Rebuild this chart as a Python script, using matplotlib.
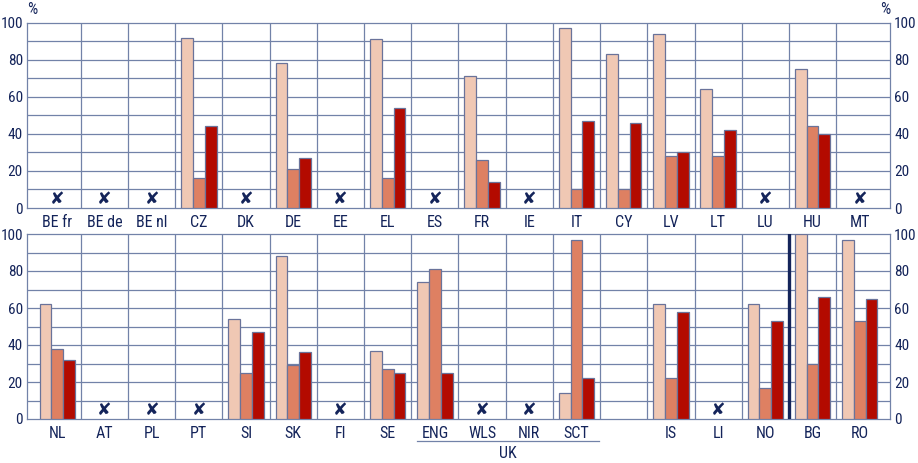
import numpy as np
import matplotlib
matplotlib.use("Agg")
import matplotlib.pyplot as plt
from matplotlib import font_manager as fm
from matplotlib.transforms import blended_transform_factory
from matplotlib.lines import Line2D

nan = np.nan
top_cats = ["BE fr", "BE de", "BE nl", "CZ", "DK", "DE", "EE", "EL", "ES",
            "FR", "IE", "IT", "CY", "LV", "LT", "LU", "HU", "MT"]
top_s1 = [nan, nan, nan, 92, nan, 78, nan, 91, nan, 71, nan, 97, 83, 94, 64, nan, 75, nan]
top_s2 = [nan, nan, nan, 16, nan, 21, nan, 16, nan, 26, nan, 10, 10, 28, 28, nan, 44, nan]
top_s3 = [nan, nan, nan, 44, nan, 27, nan, 54, nan, 14, nan, 47, 46, 30, 42, nan, 40, nan]
top_missing = ["BE fr", "BE de", "BE nl", "DK", "EE", "ES", "IE", "LU", "MT"]

bot_cats = ["NL", "AT", "PL", "PT", "SI", "SK", "FI", "SE", "ENG", "WLS",
            "NIR", "SCT", "", "IS", "LI", "NO", "BG", "RO"]
bot_s1 = [62, nan, nan, nan, 54, 88, nan, 37, 74, nan, nan, 14, nan, 62, nan, 62, 100, 97]
bot_s2 = [38, nan, nan, nan, 25, 29, nan, 27, 81, nan, nan, 97, nan, 22, nan, 17, 30, 53]
bot_s3 = [32, nan, nan, nan, 47, 36, nan, 25, 25, nan, nan, 22, nan, 58, nan, 53, 66, 65]
bot_missing = ["AT", "PL", "PT", "FI", "WLS", "NIR", "LI"]

uk_group = ["ENG", "WLS", "NIR", "SCT"]
uk_label = "UK"

colors = ["#F0C8B4", "#DE8062", "#B30A00"]
grid_c = "#7282A8"
navy = "#14245A"

names = {f.name for f in fm.fontManager.ttflist}
family = 'Roboto Condensed' if 'Roboto Condensed' in names else 'Liberation Sans'
plt.rcParams['font.family'] = [family, 'DejaVu Sans']
fs = 11.5
yfs = 11

fig = plt.figure(figsize=(9.18, 4.63), dpi=100)
ax_top = fig.add_axes([27/918, 1-208/463, 863/918, 185.3/463])
ax_bot = fig.add_axes([27/918, 1-419/463, 863/918, 185/463])


def draw(ax, cats, s1, s2, s3, missing, sep_thick=None):
    x = np.arange(len(cats))
    w = 0.25
    for off, vals, c in zip([-w, 0, w], [s1, s2, s3], colors):
        ax.bar(x + off, vals, width=w, color=c, edgecolor="#6A739A",
               linewidth=0.9, zorder=3)
    ax.set_xlim(-0.64, len(cats) - 1 + 0.64)
    ax.set_ylim(0, 100)
    for yv in range(10, 100, 10):
        ax.axhline(yv, color=grid_c, lw=0.9, zorder=1)
    for i in range(len(cats) - 1):
        if sep_thick is not None and i == sep_thick:
            ax.axvline(i + 0.5, color=navy, lw=2.4, zorder=4)
        else:
            ax.axvline(i + 0.5, color=grid_c, lw=0.9, zorder=1)
    for sp in ax.spines.values():
        sp.set_color(grid_c)
        sp.set_linewidth(0.9)
    ax.set_yticks(range(0, 101, 20))
    ax.set_yticklabels([str(v) for v in range(0, 101, 20)])
    ax.tick_params(axis='y', length=0, labelright=True, labelleft=True,
                   labelsize=yfs, colors=navy, pad=3)
    ax.set_xticks(x)
    ax.set_xticklabels(cats)
    ax.tick_params(axis='x', length=0, labelsize=fs, colors=navy, pad=5)
    for m in missing:
        i = cats.index(m)
        ax.text(i, 5, "\u2718", ha='center', va='center', color=navy,
                fontsize=12.5, family=["DejaVu Sans"], zorder=5)


draw(ax_top, top_cats, top_s1, top_s2, top_s3, top_missing)
draw(ax_bot, bot_cats, bot_s1, bot_s2, bot_s3, bot_missing, sep_thick=15)

ax_top.text(0, 1.03, "%", transform=ax_top.transAxes, ha='left', va='bottom',
            color=navy, fontsize=fs)
ax_top.text(1, 1.03, "%", transform=ax_top.transAxes, ha='right', va='bottom',
            color=navy, fontsize=fs)

tr = blended_transform_factory(ax_bot.transData, ax_bot.transAxes)
i0 = bot_cats.index(uk_group[0])
i1 = bot_cats.index(uk_group[-1])
ax_bot.add_line(Line2D([i0 - 0.37, i1 + 0.47], [-0.119, -0.119], transform=tr,
                       color=grid_c, lw=0.9, clip_on=False))
ax_bot.text((i0 - 0.37 + i1 + 0.47) / 2, -0.185, uk_label, transform=tr,
            ha='center', va='center', color=navy, fontsize=fs)

fig.savefig("out.png", dpi=100)
